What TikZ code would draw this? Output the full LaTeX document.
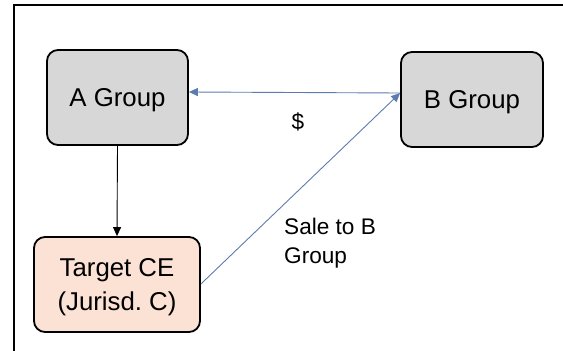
\documentclass[tikz,border=0pt]{standalone}
\usepackage{fontspec}
\setmainfont{Liberation Sans}
\usetikzlibrary{arrows.meta}
\definecolor{boxgray}{RGB}{215,215,215}
\definecolor{targetfill}{RGB}{251,226,213}
\definecolor{flowblue}{RGB}{91,124,172}
\tikzset{
  groupbox/.style={draw=black, line width=1.8pt, rounded corners=11pt,
    inner sep=0pt, text depth=0pt, align=center,
    font=\fontsize{25.8}{34}\selectfont},
  flow/.style={draw=flowblue, line width=0.9pt, -{Triangle[length=9pt,width=8pt]}},
  note/.style={font=\fontsize{22.6}{28.7}\selectfont, inner sep=0pt}
}
\begin{document}
\begin{tikzpicture}[x=1pt, y=-1pt]
  \useasboundingbox (0,0) rectangle (563,351);
  % open frame: top and left edges only
  \draw[line width=2.4pt] (14,351) -- (14,5) -- (563,5);

  \node[groupbox, fill=boxgray, minimum width=141pt, minimum height=95pt]
    (a) at (117.5,97.5) {A Group};
  \node[groupbox, fill=boxgray, minimum width=142pt, minimum height=95pt]
    (b) at (472,99.5) {B Group};
  \node[groupbox, fill=targetfill, minimum width=166pt, minimum height=95pt]
    (t) at (117,284.5) {Target CE\\(Jurisd.\ C)};

  % ownership link
  \draw[line width=0.9pt, -{Triangle[length=9pt,width=8pt]}]
    (a.south) -- (t.north);

  % payment from B to A
  \draw[flow] (b.west |- 0,93) -- (a.east |- 0,92);
  \node[note] (dollar) at (298,122) {\$};

  % sale of the target to B
  \draw[flow] (t.east |- 0,284) -- (b.west |- 0,93);
  \node[note, anchor=north west, align=left] (sale) at (284,218)
    {Sale to B\\Group};
\end{tikzpicture}
\end{document}
